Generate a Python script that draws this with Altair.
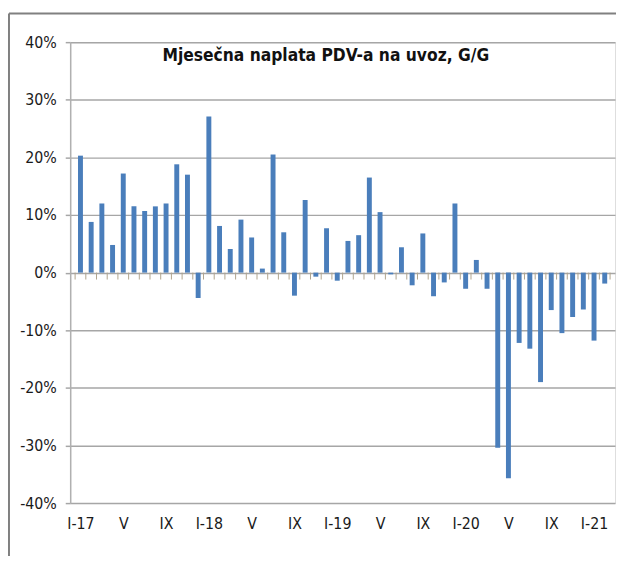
import json
import altair as alt
import pandas as pd

# Monthly values, I-2017 .. II-2021 (% y/y)
values = [20.3, 8.8, 12.0, 4.8, 17.2, 11.5, 10.7, 11.5, 12.0, 18.8, 17.0, -4.4,
          27.1, 8.1, 4.1, 9.2, 6.1, 0.7, 20.5, 7.0, -4.0, 12.6, -0.7, 7.7,
          -1.4, 5.5, 6.5, 16.5, 10.5, -0.3, 4.4, -2.2, 6.8, -4.1, -1.7, 12.0,
          -2.8, 2.2, -2.8, -30.4, -35.7, -12.2, -13.2, -19.0, -6.5, -10.5, -7.7, -6.4,
          -11.8, -1.9]
tick_labels = ["I-17", "V", "IX", "I-18", "V", "IX", "I-19", "V", "IX",
               "I-20", "V", "IX", "I-21"]
y_ticks = [-40, -30, -20, -10, 0, 10, 20, 30, 40]
title_text = "Mjesečna naplata PDV-a na uvoz, G/G"

df = pd.DataFrame({"i": list(range(len(values))), "v": values})
bounds = pd.DataFrame({"b": [k - 0.5 for k in range(len(values) + 1)]})

FONT = "DejaVu Sans Condensed, Liberation Sans Narrow, Lato, sans-serif"
W, H = 552, 467

xscale = alt.Scale(domain=[-0.5, len(values) - 0.5], nice=False, zero=False)
yscale = alt.Scale(domain=[-40, 40], nice=False)

bars = alt.Chart(df).mark_bar(size=5, color="#4a7ebb").encode(
    x=alt.X("i:Q", scale=xscale,
            axis=alt.Axis(values=list(range(0, len(values), 4)),
                          labelExpr=json.dumps(tick_labels) + "[datum.value/4]",
                          grid=False, domain=False, ticks=False, title=None,
                          labelFont=FONT, labelFontSize=16, labelColor="#1a1a1a",
                          labelPadding=13, labelFlush=False)),
    y=alt.Y("v:Q", scale=yscale,
            axis=alt.Axis(values=y_ticks, labelExpr="datum.value + '%'",
                          title=None, grid=True, gridColor="#a6a6a6", gridWidth=1.5,
                          domain=True, domainColor="#b0b0b0", domainWidth=1.5,
                          ticks=True, tickSize=5, tickColor="#a6a6a6", tickWidth=1.5,
                          labelFont=FONT, labelFontSize=16, labelColor="#1a1a1a",
                          labelPadding=9)),
)

cat_ticks = alt.Chart(bounds).mark_rule(color="#b0a48c", strokeWidth=1, y2Offset=7).encode(
    x=alt.X("b:Q", scale=xscale),
    y=alt.datum(0, scale=yscale),
    y2=alt.datum(0),
)

title = alt.Chart(pd.DataFrame({"t": [title_text]})).mark_text(
    font=FONT, fontSize=17.5, fontWeight="bold", color="#111", align="center", baseline="middle"
).encode(x=alt.value(259), y=alt.value(14), text="t:N")

frame_left = alt.Chart(pd.DataFrame({"a": [0]})).mark_rule(color="#808080", strokeWidth=2).encode(
    x=alt.value(-62), y=alt.value(-29), y2=alt.value(600))
frame_top = alt.Chart(pd.DataFrame({"a": [0]})).mark_rule(color="#808080", strokeWidth=2).encode(
    x=alt.value(-62), x2=alt.value(700), y=alt.value(-29))

chart = alt.layer(bars, cat_ticks, title, frame_left, frame_top).properties(
    width=W, height=H,
    autosize=alt.AutoSizeParams(type="none"),
    padding={"left": 63, "top": 31, "right": 1, "bottom": 50},
).configure_view(stroke=None).configure(background="white")

chart.save("out.html", embed_options={"renderer": "svg", "actions": False})
